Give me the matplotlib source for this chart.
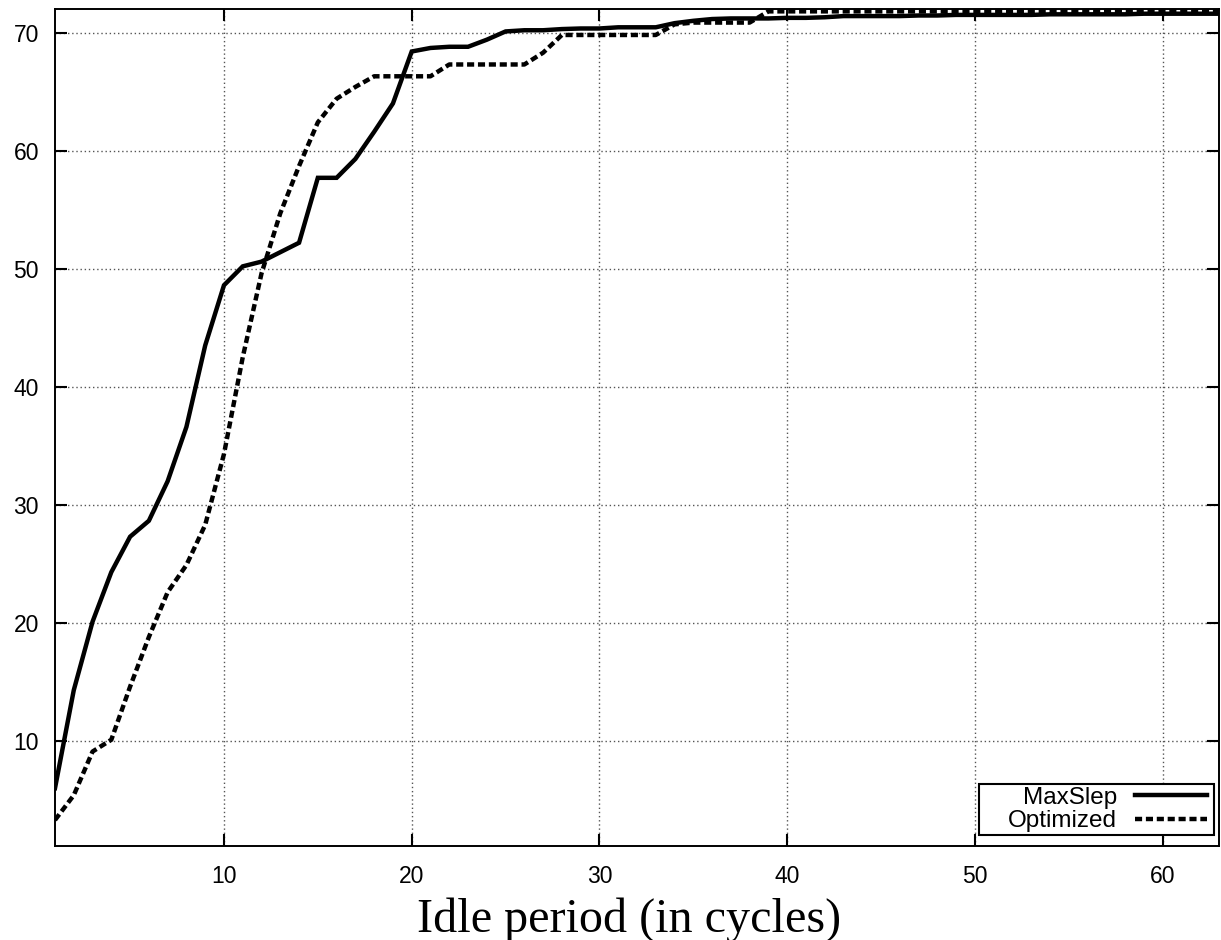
import matplotlib
matplotlib.use("Agg")
import matplotlib.pyplot as plt
from matplotlib.patches import Rectangle

x_vals = list(range(1, 64))
maxslep = [6.0, 14.3, 20.1, 24.3, 27.3, 28.65, 32.0, 36.6, 43.5, 48.6,
           50.2, 50.6, 51.4, 52.2, 57.7, 57.7, 59.3, 61.6, 64.0, 68.4,
           68.7, 68.8, 68.8, 69.4, 70.1, 70.2, 70.2, 70.3, 70.35, 70.35,
           70.45, 70.45, 70.45, 70.8, 71.0, 71.15, 71.2, 71.2, 71.2, 71.25,
           71.25, 71.3, 71.4, 71.4, 71.4, 71.4, 71.45, 71.45, 71.5, 71.5,
           71.5, 71.5, 71.5, 71.55, 71.55, 71.55, 71.55, 71.55, 71.6, 71.6,
           71.6, 71.6, 71.6]
optimized = [3.3, 5.4, 9.1, 10.1, 14.6, 18.8, 22.6, 24.9, 28.3, 34.3,
             42.5, 49.6, 54.7, 58.7, 62.4, 64.4, 65.4, 66.3, 66.3, 66.3,
             66.3, 67.3, 67.3, 67.3, 67.3, 67.3, 68.3, 69.8, 69.8, 69.8,
             69.8, 69.8, 69.8, 70.7, 70.85, 70.85, 70.85, 70.85, 71.8, 71.8,
             71.8, 71.8, 71.8, 71.8, 71.8, 71.8, 71.8, 71.8, 71.8, 71.8,
             71.8, 71.8, 71.8, 71.8, 71.8, 71.8, 71.8, 71.8, 71.8, 71.8,
             71.8, 71.8, 71.8]
series_labels = ["MaxSlep", "Optimized"]
x_ticks = [10, 20, 30, 40, 50, 60]
y_ticks = [10, 20, 30, 40, 50, 60, 70]
x_label = "Idle period (in cycles)"

plt.rcParams['font.family'] = ['Liberation Sans', 'DejaVu Sans']

W, H = 1221, 940
fig = plt.figure(figsize=(W / 100, H / 100), dpi=100)
ax_l, ax_r, ax_t, ax_b = 55, 1219, 9, 846
ax = fig.add_axes([ax_l / W, 1 - ax_b / H, (ax_r - ax_l) / W, (ax_b - ax_t) / H])

lw = 3.2
ax.plot(x_vals, maxslep, color='black', lw=lw, solid_joinstyle='miter',
        label=series_labels[0], zorder=3)
l2, = ax.plot(x_vals, optimized, color='black', lw=lw, label=series_labels[1],
              zorder=3, dash_capstyle='butt')
l2.set_dashes([1.6, 0.85])

ax.set_xlim(1, 63)
ax.set_ylim(1.1, 72.0)
ax.set_xticks(x_ticks)
ax.set_yticks(y_ticks)
ax.tick_params(direction='in', length=8.5, width=1.5, top=True, right=True,
               labelsize=16.5, pad=14, colors='black')
ax.tick_params(axis='y', pad=11.5)
ax.grid(True, color='#555555', linestyle=(0, (1, 2)), linewidth=1.0)
for s in ax.spines.values():
    s.set_linewidth(1.4)

ax.set_xlabel(x_label, family=['Liberation Serif'], fontsize=34.7)
ax.xaxis.set_label_coords((629 - ax_l) / (ax_r - ax_l), -(932 - ax_b) / (ax_b - ax_t),
                          transform=ax.transAxes)
ax.xaxis.label.set_va('baseline')

# legend (frame drawn as a box in pixel coordinates)
box_l, box_r, box_t, box_b = 979, 1214, 784, 835
rect = Rectangle((box_l / W, 1 - box_b / H), (box_r - box_l) / W,
                 (box_b - box_t) / H, transform=fig.transFigure,
                 facecolor='white', edgecolor='black', lw=1.5,
                 zorder=4, clip_on=False)
ax.add_patch(rect)
leg = ax.legend(loc='center right',
                bbox_to_anchor=(1207 / W, 1 - (box_t + box_b) / 2 / H),
                bbox_transform=fig.transFigure,
                borderaxespad=0, borderpad=0, markerfirst=False, fontsize=17.5,
                handlelength=2.95, handletextpad=0.74, frameon=False,
                labelspacing=0.05, alignment='right')
for t in leg.get_texts():
    t.set_ha('right')
leg.set_zorder(6)

fig.savefig("out.png", dpi=100)
